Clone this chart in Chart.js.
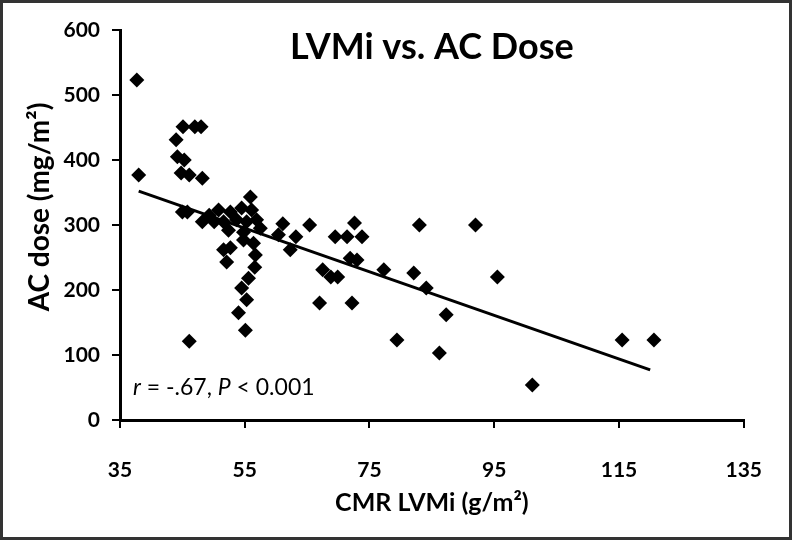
<!DOCTYPE html>
<html>
<head>
<meta charset="utf-8">
<script src="https://cdn.jsdelivr.net/npm/chart.js@4"></script>
<style>
  html, body { margin: 0; padding: 0; background: #fff; }
  #wrap { width: 792px; height: 540px; }
</style>
</head>
<body>
<div id="wrap"><canvas id="chart" width="792" height="540"></canvas></div>
<script>
// CMR LVMi (g/m2) and AC dose (mg/m2)
const lvmi = [
  37.7, 38, 45.1, 47, 48, 44, 44.2, 45.3, 44.8, 46.1, 48.2, 45, 45.8, 46.1,
  48.2, 49.3, 50.1, 50.8, 51.6, 52.7, 53.7, 54.5, 55.3, 55.9, 56.1, 56.9, 52.4, 54.8, 57.5, 54.8,
  51.6, 52.1, 52.7, 56.4, 56.7, 56.6, 55.6, 54.5, 55.3, 54, 55.1,
  61.1, 60.4, 62.3, 63.2, 65.4, 67.5, 68.8, 69.9, 67, 69.5, 71.4, 72.6, 73.8, 71.9, 73, 72.2,
  77.3, 79.4, 82.1, 83, 84.1, 86.2, 87.3, 92, 95.5, 101.1, 115.5, 120.6
];
const acDose = [
  523, 377, 451, 451, 451, 431, 405, 400, 380, 377, 372, 320, 320, 121,
  305, 315, 305, 323, 305, 320, 308, 326, 305, 343, 323, 308, 292, 289, 295, 277,
  262, 243, 265, 272, 254, 235, 218, 203, 185, 165, 138,
  302, 285, 262, 282, 300, 231, 220, 220, 180, 282, 282, 303, 282, 249, 246, 180,
  231, 123, 226, 300, 203, 103, 162, 300, 220, 54, 123, 123
];
// linear fit end points
const fitX = [38, 120];
const fitY = [352, 77];

const xTicks = [35, 55, 75, 95, 115, 135];

const FONT = "Lato, 'Open Sans', sans-serif";

const extras = {
  id: "extras",
  afterDraw(chart) {
    const { ctx, chartArea } = chart;
    ctx.save();
    // outer frame
    ctx.strokeStyle = "#333";
    ctx.lineWidth = 3;
    ctx.strokeRect(1.5, 1.5, chart.width - 3, chart.height - 3);

    ctx.fillStyle = "#000";
    // title
    ctx.font = "bold 36px " + FONT;
    ctx.textAlign = "center";
    ctx.textBaseline = "middle";
    ctx.fillText("LVMi vs. AC Dose", chartArea.left + chartArea.width * 0.5, 47);

    // y axis title
    ctx.save();
    ctx.translate(40, 207);
    ctx.rotate(-Math.PI / 2);
    ctx.font = "bold 28px " + FONT;
    ctx.fillText("AC dose (mg/m²)", 0, 0);
    ctx.restore();

    // r / P note
    ctx.textAlign = "left";
    ctx.textBaseline = "alphabetic";
    let x = chartArea.left + 13;
    const y = chartArea.bottom - 25;
    const parts = [["r", true], [" = -.67, ", false], ["P", true], [" < 0.001", false]];
    parts.forEach(([t, it]) => {
      ctx.font = (it ? "italic " : "") + "23px " + FONT;
      ctx.fillText(t, x, y);
      x += ctx.measureText(t).width;
    });
    ctx.restore();
  }
};

new Chart(document.getElementById("chart"), {
  type: "scatter",
  data: {
    datasets: [
      {
        data: lvmi.map((v, i) => ({ x: v, y: acDose[i] })),
        pointStyle: "rectRot",
        pointRadius: 7.5,
        backgroundColor: "#000",
        borderColor: "#000",
        borderWidth: 0,
      },
      {
        type: "line",
        data: fitX.map((v, i) => ({ x: v, y: fitY[i] })),
        borderColor: "#000",
        borderWidth: 3,
        pointRadius: 0,
        fill: false,
      },
    ],
  },
  options: {
    responsive: false,
    animation: false,
    layout: { padding: { left: 0, right: 41, top: 30, bottom: 0 } },
    plugins: { legend: { display: false }, tooltip: { enabled: false } },
    scales: {
      x: {
        type: "linear",
        min: 35,
        max: 135,
        afterBuildTicks: (s) => { s.ticks = xTicks.map((v) => ({ value: v })); },
        afterFit: (s) => { s.height = 120; },
        grid: { drawOnChartArea: false, drawTicks: true, tickLength: 8, color: "#000", lineWidth: 2 },
        border: { display: true, color: "#000", width: 3 },
        ticks: { color: "#000", padding: 30, font: { family: FONT, size: 21, weight: "bold" }, maxRotation: 0 },
        title: {
          display: true,
          text: "CMR LVMi (g/m²)",
          color: "#000",
          font: { family: FONT, size: 25, weight: "bold" },
          padding: { top: 0, bottom: 22 },
        },
      },
      y: {
        min: 0,
        max: 600,
        ticks: { stepSize: 100, color: "#000", padding: 12, font: { family: FONT, size: 21, weight: "bold" } },
        afterFit: (s) => { s.width = 120; },
        grid: { drawOnChartArea: false, drawTicks: true, tickLength: 8, color: "#000", lineWidth: 2 },
        border: { display: true, color: "#000", width: 3 },
      },
    },
  },
  plugins: [extras],
});
</script>
</body>
</html>
